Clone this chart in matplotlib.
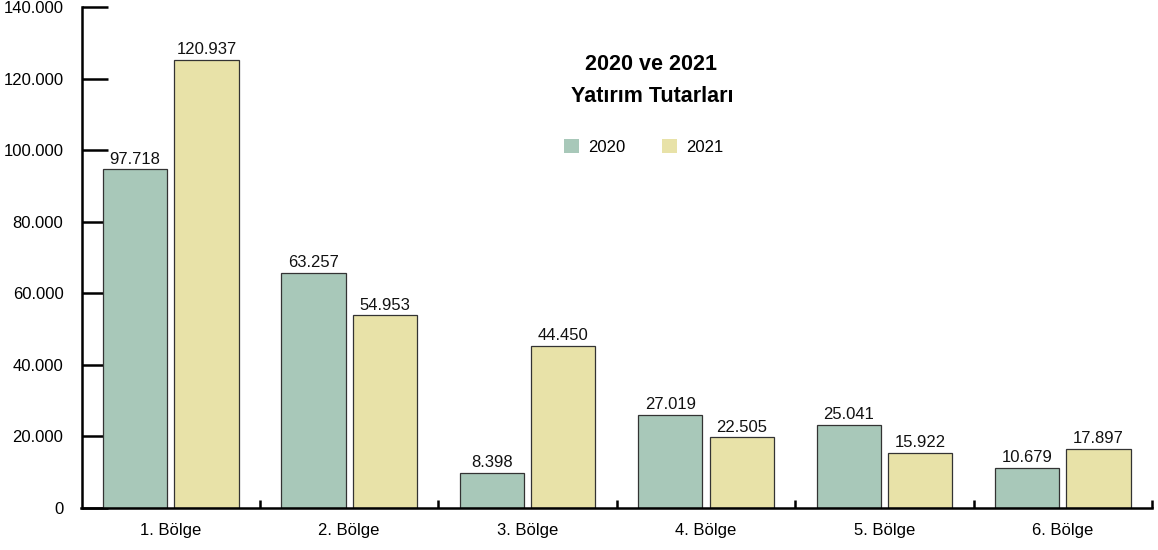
import matplotlib
matplotlib.use("Agg")
import matplotlib.pyplot as plt
import numpy as np

bolgeler = ["1. Bölge", "2. Bölge", "3. Bölge", "4. Bölge", "5. Bölge", "6. Bölge"]
# bar heights as drawn in the picture
yukseklik2020 = [94700, 65700, 9800, 26000, 23200, 11200]
yukseklik2021 = [125200, 53900, 45300, 19800, 15400, 16500]
# printed value labels
etiket2020 = ["97.718", "63.257", "8.398", "27.019", "25.041", "10.679"]
etiket2021 = ["120.937", "54.953", "44.450", "22.505", "15.922", "17.897"]
yTicks = [0, 20000, 40000, 60000, 80000, 100000, 120000, 140000]
yTickLabels = ["0", "20.000", "40.000", "60.000", "80.000", "100.000", "120.000", "140.000"]

plt.rcParams['font.family'] = ['Liberation Sans', 'DejaVu Sans']

renk2020 = '#a8c8b9'
renk2021 = '#e8e2a8'

fig = plt.figure(figsize=(11.58, 5.5), dpi=100)
ax = fig.add_axes([81.5 / 1158, 1 - 508 / 550, (1152 - 81.5) / 1158, (508 - 7) / 550])

x = np.arange(len(bolgeler))
g = 0.2
w = 0.36
b1 = ax.bar(x - g, yukseklik2020, w, color=renk2020, edgecolor='#333333', linewidth=0.9, label='2020')
b2 = ax.bar(x + g, yukseklik2021, w, color=renk2021, edgecolor='#333333', linewidth=0.9, label='2021')

for xi, h, t in zip(x - g, yukseklik2020, etiket2020):
    ax.annotate(t, (xi, h), xytext=(0, 4), textcoords='offset points',
                ha='center', va='baseline', fontsize=12, color='#111111')
for xi, h, t in zip(x + g, yukseklik2021, etiket2021):
    ax.annotate(t, (xi, h), xytext=(0, 4), textcoords='offset points',
                ha='center', va='baseline', fontsize=12, color='#111111')

ax.set_xlim(-0.5, len(bolgeler) - 0.5)
ax.set_ylim(0, 140000)
ax.set_axisbelow(True)

ax.set_yticks(yTicks)
ax.set_yticklabels(yTickLabels)
ax.tick_params(axis='y', direction='in', length=19, width=1.8, pad=13, labelsize=12, colors='black')

ax.set_xticks(x)
ax.set_xticklabels(bolgeler)
ax.tick_params(axis='x', which='major', length=0, pad=11, labelsize=12)
ax.set_xticks(np.arange(len(bolgeler)) + 0.5, minor=True)
ax.tick_params(axis='x', which='minor', direction='in', length=6, width=1.8)

for s in ['top', 'right']:
    ax.spines[s].set_visible(False)
for s in ['left', 'bottom']:
    ax.spines[s].set_linewidth(1.8)

fig.text(651 / 1158, 1 - 65 / 550, "2020 ve 2021", ha='center', va='center',
         fontsize=15.5, fontweight='bold')
fig.text(652 / 1158, 1 - 96 / 550, "Yatırım Tutarları", ha='center', va='center',
         fontsize=15.5, fontweight='bold')

fig.legend(handles=[b1, b2], loc='center', bbox_to_anchor=(644 / 1158, 1 - 147 / 550),
           ncol=2, frameon=False, fontsize=12, handlelength=0.9, handleheight=0.9,
           handletextpad=0.55, columnspacing=2.2)
# no edge on legend squares
for h in fig.legends[0].legend_handles:
    h.set_edgecolor('none')

fig.savefig("out.png", dpi=100)
